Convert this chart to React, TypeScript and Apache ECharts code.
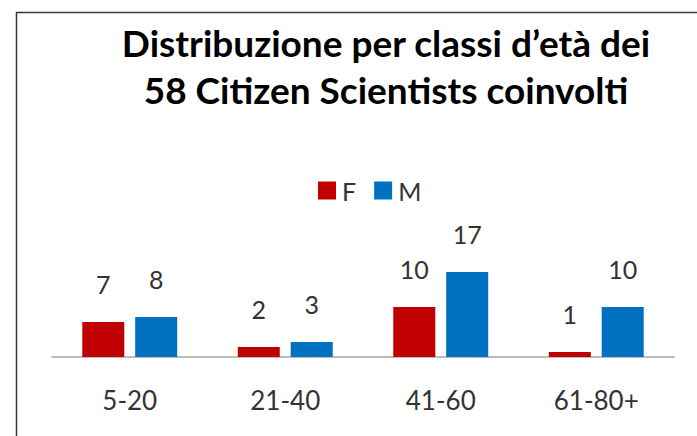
import React, { useEffect, useRef } from "react";
import * as echarts from "echarts";

const categories = ["5-20", "21-40", "41-60", "61-80+"];
const femaleValues = [7, 2, 10, 1];
const maleValues = [8, 3, 17, 10];
const titleText = "Distribuzione per classi d\u2019età dei\n58 Citizen Scientists coinvolti";

export default function App() {
  const ref = useRef<HTMLDivElement>(null);
  useEffect(() => {
    document.body.style.margin = "0";
    const chart = echarts.init(ref.current!, null, { renderer: "svg" });
    const font = "Lato, 'Open Sans', sans-serif";
    const labelStyle = {
      show: true,
      position: "top" as const,
      distance: 26,
      fontSize: 25,
      color: "#333333",
      fontFamily: font,
    };
    chart.setOption({
      animation: false,
      backgroundColor: "#ffffff",
      title: {
        text: titleText,
        left: 381,
        top: 14,
        textAlign: "center",
        textStyle: {
          fontFamily: font,
          fontWeight: "bold",
          fontSize: 37,
          lineHeight: 47,
          color: "#000000",
        },
      },
      legend: {
        left: 313,
        top: 173,
        itemWidth: 18,
        itemHeight: 18,
        itemGap: 18,
        icon: "rect",
        data: ["F", "M"],
        textStyle: { fontFamily: font, fontSize: 25, color: "#333333", padding: [0, 0, 0, 1] },
      },
      graphic: [
        {
          type: "rect",
          shape: { x: 16.5, y: 12.5, width: 700, height: 450 },
          style: { fill: "none", stroke: "#3a3a3a", lineWidth: 1.5 },
          silent: true,
        },
      ],
      grid: { left: 52, right: 23, top: 257, bottom: 79 },
      xAxis: {
        type: "category",
        data: categories,
        axisLine: { lineStyle: { color: "#A6A6A6", width: 1.5 } },
        axisTick: { show: false },
        axisLabel: { fontFamily: font, fontSize: 26, color: "#333333", margin: 30 },
      },
      yAxis: {
        type: "value",
        min: 0,
        max: 20,
        show: false,
        splitLine: { show: false },
      },
      series: [
        {
          name: "F",
          type: "bar",
          data: femaleValues,
          barWidth: 42,
          barGap: "26%",
          itemStyle: { color: "#C00000" },
          label: labelStyle,
        },
        {
          name: "M",
          type: "bar",
          data: maleValues,
          barWidth: 42,
          barGap: "26%",
          itemStyle: { color: "#0070C0" },
          label: labelStyle,
        },
      ],
    });
    return () => chart.dispose();
  }, []);
  return <div ref={ref} style={{ position: "fixed", left: 0, top: 0, width: 697, height: 436 }} />;
}
